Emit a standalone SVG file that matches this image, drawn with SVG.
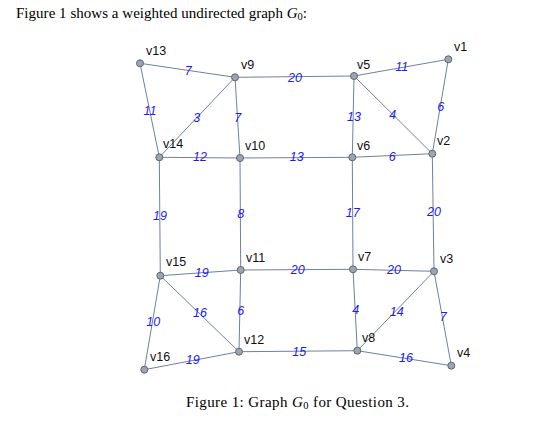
<svg xmlns="http://www.w3.org/2000/svg" width="544" height="428" viewBox="0 0 544 428">
<style>
.e{stroke:#6f819b;stroke-width:1;fill:none}
.n{fill:#9ca5b1;stroke:#5f6670;stroke-width:1}
.l{font-family:"Liberation Sans",Arial,sans-serif;font-size:12.5px;fill:#111}
.w{font-family:"Liberation Sans",Arial,sans-serif;font-size:12.5px;font-style:italic;fill:#1c1cf5;text-anchor:middle;dominant-baseline:central}
.t{font-family:"Liberation Serif","Times New Roman",serif;font-size:15px;fill:#000}
</style>
<rect width="544" height="428" fill="#fff"/>
<text class="t" x="16" y="18" textLength="291" lengthAdjust="spacing">Figure 1 shows a weighted undirected graph <tspan font-style="italic">G</tspan><tspan font-size="10.5" dy="2">0</tspan><tspan dy="-2">:</tspan></text>
<g id="connectors">
<line class="e" x1="140" y1="63.3" x2="235" y2="77.3"/>
<line class="e" x1="235" y1="77.3" x2="354" y2="76"/>
<line class="e" x1="354" y1="76" x2="448.3" y2="59.3"/>
<line class="e" x1="140" y1="63.3" x2="159.3" y2="157.3"/>
<line class="e" x1="235" y1="77.3" x2="159.3" y2="157.3"/>
<line class="e" x1="235" y1="77.3" x2="240" y2="158"/>
<line class="e" x1="354" y1="76" x2="352.3" y2="157.3"/>
<line class="e" x1="354" y1="76" x2="432.3" y2="153.7"/>
<line class="e" x1="448.3" y1="59.3" x2="432.3" y2="153.7"/>
<line class="e" x1="159.3" y1="157.3" x2="240" y2="158"/>
<line class="e" x1="240" y1="158" x2="352.3" y2="157.3"/>
<line class="e" x1="352.3" y1="157.3" x2="432.3" y2="153.7"/>
<line class="e" x1="159.3" y1="157.3" x2="160.3" y2="275.7"/>
<line class="e" x1="240" y1="158" x2="240.7" y2="270"/>
<line class="e" x1="352.3" y1="157.3" x2="353" y2="269.3"/>
<line class="e" x1="432.3" y1="153.7" x2="434" y2="271.3"/>
<line class="e" x1="160.3" y1="275.7" x2="240.7" y2="270"/>
<line class="e" x1="240.7" y1="270" x2="353" y2="269.3"/>
<line class="e" x1="353" y1="269.3" x2="434" y2="271.3"/>
<line class="e" x1="160.3" y1="275.7" x2="144.3" y2="369.7"/>
<line class="e" x1="160.3" y1="275.7" x2="239" y2="351.7"/>
<line class="e" x1="240.7" y1="270" x2="239" y2="351.7"/>
<line class="e" x1="353" y1="269.3" x2="357.3" y2="350.7"/>
<line class="e" x1="434" y1="271.3" x2="357.3" y2="350.7"/>
<line class="e" x1="434" y1="271.3" x2="451.3" y2="365.7"/>
<line class="e" x1="144.3" y1="369.7" x2="239" y2="351.7"/>
<line class="e" x1="239" y1="351.7" x2="357.3" y2="350.7"/>
<line class="e" x1="357.3" y1="350.7" x2="451.3" y2="365.7"/>
<text class="w" x="188.3" y="70.7">7</text>
<text class="w" x="295" y="77.7">20</text>
<text class="w" x="401.7" y="67.3">11</text>
<text class="w" x="150" y="110.7">11</text>
<text class="w" x="196.7" y="118.3">3</text>
<text class="w" x="237.7" y="118.3">7</text>
<text class="w" x="354" y="116.7">13</text>
<text class="w" x="392.7" y="115">4</text>
<text class="w" x="440.7" y="106.7">6</text>
<text class="w" x="200" y="157.3">12</text>
<text class="w" x="296.7" y="157.3">13</text>
<text class="w" x="392.3" y="156.7">6</text>
<text class="w" x="160" y="216">19</text>
<text class="w" x="240.7" y="214.3">8</text>
<text class="w" x="352.7" y="213.3">17</text>
<text class="w" x="434" y="212.3">20</text>
<text class="w" x="201.7" y="273.3">19</text>
<text class="w" x="297.7" y="270">20</text>
<text class="w" x="394" y="270">20</text>
<text class="w" x="153.3" y="322.3">10</text>
<text class="w" x="200" y="313.3">16</text>
<text class="w" x="240.7" y="311">6</text>
<text class="w" x="355.7" y="310">4</text>
<text class="w" x="396.7" y="311.7">14</text>
<text class="w" x="443.3" y="316.7">7</text>
<text class="w" x="192.7" y="360">19</text>
<text class="w" x="299.3" y="351.7">15</text>
<text class="w" x="406" y="358.3">16</text>
</g>
<g id="v1"><circle class="n" cx="448.3" cy="59.3" r="3.5"/><text class="l" x="454" y="51">v1</text></g>
<g id="v2"><circle class="n" cx="432.3" cy="153.7" r="3.5"/><text class="l" x="437" y="145">v2</text></g>
<g id="v3"><circle class="n" cx="434" cy="271.3" r="3.5"/><text class="l" x="440" y="263">v3</text></g>
<g id="v4"><circle class="n" cx="451.3" cy="365.7" r="3.5"/><text class="l" x="457" y="357">v4</text></g>
<g id="v5"><circle class="n" cx="354" cy="76" r="3.5"/><text class="l" x="357" y="69">v5</text></g>
<g id="v6"><circle class="n" cx="352.3" cy="157.3" r="3.5"/><text class="l" x="357" y="150">v6</text></g>
<g id="v7"><circle class="n" cx="353" cy="269.3" r="3.5"/><text class="l" x="358" y="261">v7</text></g>
<g id="v8"><circle class="n" cx="357.3" cy="350.7" r="3.5"/><text class="l" x="362" y="342">v8</text></g>
<g id="v9"><circle class="n" cx="235" cy="77.3" r="3.5"/><text class="l" x="241" y="69">v9</text></g>
<g id="v10"><circle class="n" cx="240" cy="158" r="3.5"/><text class="l" x="245" y="150">v10</text></g>
<g id="v11"><circle class="n" cx="240.7" cy="270" r="3.5"/><text class="l" x="246" y="262">v11</text></g>
<g id="v12"><circle class="n" cx="239" cy="351.7" r="3.5"/><text class="l" x="244" y="344">v12</text></g>
<g id="v13"><circle class="n" cx="140" cy="63.3" r="3.5"/><text class="l" x="146" y="55">v13</text></g>
<g id="v14"><circle class="n" cx="159.3" cy="157.3" r="3.5"/><text class="l" x="163" y="148">v14</text></g>
<g id="v15"><circle class="n" cx="160.3" cy="275.7" r="3.5"/><text class="l" x="166" y="266">v15</text></g>
<g id="v16"><circle class="n" cx="144.3" cy="369.7" r="3.5"/><text class="l" x="150" y="361">v16</text></g>
<text class="t" x="186" y="407" textLength="223" lengthAdjust="spacing">Figure 1: Graph <tspan font-style="italic">G</tspan><tspan font-size="10.5" dy="2">0</tspan><tspan dy="-2"> for Question 3.</tspan></text>
</svg>
